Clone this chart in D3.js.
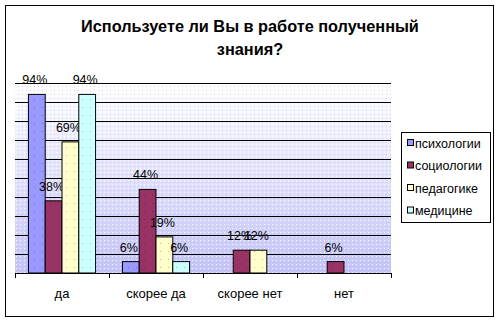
<!DOCTYPE html>
<html><head><meta charset="utf-8">
<script src="https://cdn.jsdelivr.net/npm/d3@7"></script>
<style>body{margin:0;background:#fff}svg{display:block}text{font-family:Arial,"Liberation Sans",sans-serif}</style>
</head><body>
<svg id="c" width="500" height="322"></svg>
<script>
const categories = ["да", "скорее да", "скорее нет", "нет"];
const seriesNames = ["психологии", "социологии", "педагогике", "медицине"];
const psychology = [0.94, 0.06, 0, 0];
const sociology = [0.38, 0.44, 0.12, 0.06];
const pedagogy = [0.69, 0.19, 0.12, 0];
const medicine = [0.94, 0.06, 0, 0];
const yTicks = [0, 0.1, 0.2, 0.3, 0.4, 0.5, 0.6, 0.7, 0.8, 0.9, 1.0];
const colors = ["#9999ff", "#993366", "#ffffcc", "#ccffff"];
const titleLines = ["Используете ли Вы в работе полученный", "знания?"];

(function () {
const series = [psychology, sociology, pedagogy, medicine];
const svg = d3.select("#c");

svg.append("rect").attr("x", 5.5).attr("y", 5.5).attr("width", 488).attr("height", 311)
  .attr("fill", "#fff").attr("stroke", "#000").attr("stroke-width", 1);

const defs = svg.append("defs");
const grad = defs.append("linearGradient").attr("id", "bg").attr("x1", 0).attr("y1", 0).attr("x2", 0).attr("y2", 1);
grad.append("stop").attr("offset", "0%").attr("stop-color", "#ffffff");
grad.append("stop").attr("offset", "100%").attr("stop-color", "#c4c4f6");
const pat = defs.append("pattern").attr("id", "dots").attr("width", 4).attr("height", 4).attr("patternUnits", "userSpaceOnUse");
pat.append("rect").attr("x", 0).attr("y", 0).attr("width", 1).attr("height", 1).attr("fill", "#ffffff").attr("opacity", 0.8);
pat.append("rect").attr("x", 2).attr("y", 2).attr("width", 1).attr("height", 1).attr("fill", "#b0b0e8").attr("opacity", 0.5);
const bpat = defs.append("pattern").attr("id", "bdots").attr("width", 8).attr("height", 8).attr("patternUnits", "userSpaceOnUse");
bpat.append("rect").attr("x", 3).attr("y", 3).attr("width", 1).attr("height", 1).attr("fill", "#000").attr("opacity", 0.25);

const pL = 15, pR = 391, pT = 83, pB = 273;
const x0 = d3.scaleBand().domain(categories).range([pL, pR]).paddingInner(0).paddingOuter(0);
const x1 = d3.scaleBand().domain(d3.range(series.length)).range([0, x0.bandwidth()]).paddingOuter(0.8).paddingInner(0);
const y = d3.scaleLinear().domain([0, 1]).range([pB, pT]);

svg.append("rect").attr("x", pL).attr("y", pT).attr("width", pR - pL).attr("height", pB - pT).attr("fill", "url(#bg)");
svg.append("rect").attr("x", pL).attr("y", pT).attr("width", pR - pL).attr("height", pB - pT).attr("fill", "url(#dots)");

svg.append("g").selectAll("line").data(yTicks.slice(1)).join("line")
  .attr("x1", pL).attr("x2", pR)
  .attr("y1", d => Math.round(y(d)) + 0.5).attr("y2", d => Math.round(y(d)) + 0.5)
  .attr("stroke", "#000").attr("stroke-width", 1);

const groups = svg.append("g").selectAll("g").data(categories).join("g")
  .attr("transform", d => `translate(${x0(d)},0)`);
groups.each(function(cat, ci) {
  const g = d3.select(this);
  series.forEach((s, si) => {
    const v = s[ci];
    if (v <= 0) return;
    const bx = x1(si), bw = x1.bandwidth();
    g.append("rect").attr("x", bx).attr("y", y(v)).attr("width", bw).attr("height", y(0) - y(v))
      .attr("fill", colors[si]).attr("stroke", "#000").attr("stroke-width", 1);
    g.append("rect").attr("x", bx).attr("y", y(v)).attr("width", bw).attr("height", y(0) - y(v))
      .attr("fill", "url(#bdots)");
    g.append("text").attr("x", bx + bw / 2 - 2).attr("y", y(v) - 10)
      .attr("text-anchor", "middle").attr("font-size", 12.5).attr("fill", "#000")
      .text(Math.round(v * 100) + "%");
  });
});

const xAxis = svg.append("g").attr("transform", `translate(0,${pB})`);
xAxis.append("line").attr("x1", pL).attr("x2", pR).attr("y1", 0.5).attr("y2", 0.5).attr("stroke", "#000");
const tickPos = categories.map(c => x0(c)).concat([pR]);
xAxis.selectAll(".tk").data(tickPos).join("line").attr("class", "tk")
  .attr("x1", d => Math.round(d) + 0.5).attr("x2", d => Math.round(d) + 0.5).attr("y1", 0).attr("y2", 5).attr("stroke", "#000");
xAxis.selectAll(".lb").data(categories).join("text").attr("class", "lb")
  .attr("x", d => x0(d) + x0.bandwidth() / 2).attr("y", 25)
  .attr("text-anchor", "middle").attr("font-size", 13).text(d => d);

svg.append("g").selectAll("text").data(titleLines).join("text")
  .attr("x", 250).attr("y", (d, i) => 32 + i * 23)
  .attr("text-anchor", "middle").attr("font-size", 16.3).attr("font-weight", "bold").text(d => d);

const lg = svg.append("g");
lg.append("rect").attr("x", 401.5).attr("y", 132.5).attr("width", 89).attr("height", 90)
  .attr("fill", "#fff").attr("stroke", "#000");
const items = lg.selectAll(".li").data(seriesNames).join("g").attr("class", "li")
  .attr("transform", (d, i) => `translate(407,${143 + i * 22.5})`);
items.append("rect").attr("x", 0.5).attr("y", -3.5).attr("width", 6).attr("height", 6)
  .attr("fill", (d, i) => colors[i]).attr("stroke", "#000");
items.append("text").attr("x", 8).attr("y", 4.5).attr("font-size", 12.5).text(d => d);
})();
</script>
</body></html>
